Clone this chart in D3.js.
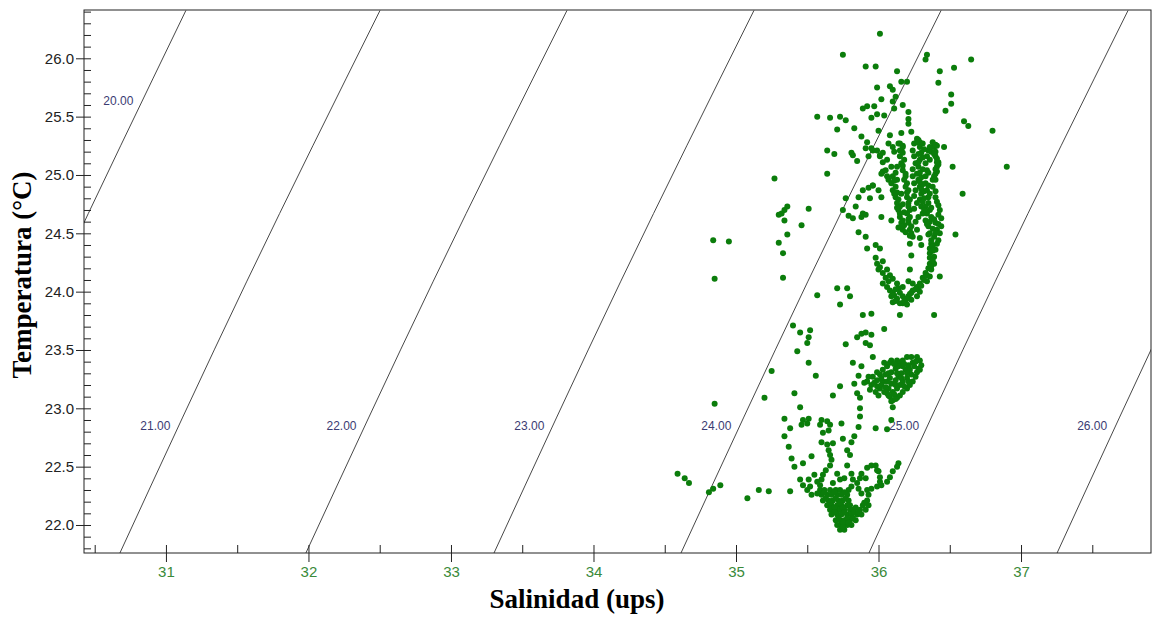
<!DOCTYPE html>
<html>
<head>
<meta charset="utf-8">
<script src="https://cdn.jsdelivr.net/npm/d3@7"></script>
<style>
body { margin: 0; background: #fff; }
</style>
</head>
<body>
<script>
// isopicnas (sigma-t): salinidad donde cada linea cruza las temperaturas isoTemps
var sigmaLevels = [20, 21, 22, 23, 24, 25, 26];
var isoTemps = [21.76, 24.09, 26.41];
var isoSal = [
  [29.365, 30.232, 31.140],
  [30.677, 31.568, 32.502],
  [31.982, 32.876, 33.814],
  [33.302, 34.192, 35.126],
  [34.614, 35.505, 36.439],
  [35.933, 36.820, 37.751],
  [37.253, 38.140, 39.070]
];

var salTicks = [31, 32, 33, 34, 35, 36, 37];
var tempTicks = [22.0, 22.5, 23.0, 23.5, 24.0, 24.5, 25.0, 25.5, 26.0];

// puntos [salinidad, temperatura]
var dispersos = [
  [36.01,26.21],[35.75,26.03],[35.91,25.93],[35.98,25.93],[36.13,25.89],[36.34,26.03],[36.33,25.99],[36.43,25.89],
  [36.53,25.92],[36.65,25.99],[36.42,25.79],[36.16,25.80],[36.20,25.80],[35.99,25.75],[36.08,25.76],[36.10,25.73],
  [36.12,25.67],[36.02,25.65],[36.10,25.63],[36.17,25.60],[36.11,25.57],[35.89,25.57],[35.92,25.59],[35.97,25.59],
  [35.99,25.52],[36.04,25.51],[35.95,25.49],[36.21,25.54],[36.21,25.48],[36.21,25.44],[36.51,25.69],[36.51,25.61],
  [36.47,25.55],[36.60,25.46],[36.63,25.42],[36.80,25.38],[36.90,25.07],[35.57,25.50],[35.66,25.49],[35.73,25.50],
  [35.77,25.47],[35.71,25.39],[35.83,25.40],[35.88,25.33],[36.00,25.38],[36.08,25.34],[36.16,25.36],[36.23,25.37],
  [36.27,25.31],[36.29,25.28],[35.64,25.21],[35.69,25.18],[35.81,25.19],[35.82,25.17],[35.85,25.12],[35.92,25.28],
  [35.91,25.23],[35.95,25.23],[35.99,25.21],[36.01,25.17],[36.03,25.19],[36.07,25.27],[36.10,25.24],[36.14,25.27],
  [36.17,25.25],[36.15,25.21],[36.11,25.20],[36.06,25.13],[36.09,25.07],[36.03,25.03],[36.06,24.99],[36.39,25.24],
  [36.41,25.25],[36.37,25.20],[36.40,25.16],[36.42,25.11],[36.41,25.07],[36.40,25.01],[36.38,24.96],[36.46,25.24],
  [36.52,25.07],[35.64,25.01],[35.27,24.97],[35.96,24.91],
  [35.36,24.73],[35.34,24.70],[35.32,24.67],[35.30,24.66],[35.51,24.71],[35.34,24.61],[35.46,24.57],[35.36,24.49],
  [35.30,24.42],[35.33,24.33],[35.33,24.12],[35.57,23.97],[35.71,24.03],[35.78,24.03],[35.80,23.96],[35.73,23.89],
  [35.77,24.80],[35.75,24.70],[35.79,24.65],[36.59,24.84],
  [34.84,24.44],[34.95,24.43],[34.85,24.11],[34.85,23.04],[34.59,22.44],[34.64,22.40],[34.67,22.36],[34.81,22.28],
  [34.84,22.31],[34.89,22.34],
  [35.93,25.16],[35.96,25.21],[36.01,25.16],[36.03,25.11],[36.05,25.04],[36.02,25.01],[36.07,24.96],[35.89,24.87],
  [35.93,24.89],[35.96,24.91],[36.00,24.87],[36.02,24.81],[35.94,24.80],[35.86,24.81],[35.84,24.73],[35.89,24.67],
  [35.91,24.66],[35.88,24.64],[35.82,24.63],[36.02,24.64],[36.09,24.61],[35.86,24.51],[35.91,24.47],[35.92,24.37],
  [35.98,24.40],[36.01,24.37],[36.22,24.41],[36.23,24.31],[36.22,24.19],[36.15,23.80],[35.89,23.80],[35.95,23.81],
  [36.39,23.80],[36.43,24.13],[36.54,24.49]
];

var grupoSuperior = [
  [36.15,25.27],[36.16,25.21],[36.15,25.16],[36.16,25.10],[36.17,25.04],[36.19,24.99],[36.20,24.93],[36.21,24.87],
  [36.20,24.81],[36.21,24.76],[36.22,24.70],[36.22,24.64],[36.21,24.59],[36.22,24.53],[36.24,24.47],
  [36.17,25.24],[36.18,25.13],[36.19,25.01],[36.19,24.90],[36.22,24.79],[36.20,24.67],[36.23,24.56],[36.23,24.50],
  [36.10,24.99],[36.09,24.93],[36.10,24.87],[36.12,24.81],[36.13,24.76],[36.14,24.70],[36.15,24.64],[36.16,24.59],
  [36.17,24.53],[36.13,24.96],[36.12,24.90],[36.14,24.79],[36.15,24.73],[36.17,24.61],
  [36.28,25.30],[36.29,25.24],[36.30,25.19],[36.29,25.13],[36.28,25.07],[36.27,25.01],[36.28,24.96],[36.29,24.90],
  [36.30,24.84],[36.29,24.79],[36.30,24.73],[36.31,24.67],[36.33,24.61],[36.35,24.56],[36.36,24.50],[36.37,24.44],
  [36.26,25.10],[36.24,24.99],[36.26,24.87],[36.27,24.76],[36.28,24.64],[36.24,25.21],
  [36.35,25.21],[36.34,25.16],[36.33,25.10],[36.34,25.04],[36.33,24.99],[36.33,24.93],[36.34,24.87],[36.35,24.81],
  [36.35,24.76],[36.36,24.70],[36.37,24.64],[36.40,24.59],[36.41,24.53],
  [36.40,25.26],[36.40,25.20],[36.41,25.14],[36.42,25.09],[36.41,25.03],[36.40,24.96],[36.40,24.86],[36.41,24.77],
  [36.43,24.70],[36.44,24.63],[36.44,24.56],[36.43,24.50],
  [36.37,24.41],[36.36,24.37],[36.36,24.33],[36.36,24.29],[36.36,24.24],[36.35,24.20],[36.33,24.16],[36.31,24.12],
  [36.29,24.07],[36.27,24.04],[36.24,24.01],[36.23,23.99],[36.21,23.96],[36.19,23.93],[36.17,23.90],
  [36.41,24.41],[36.40,24.36],[36.39,24.30],[36.39,24.24],[36.37,24.19],[36.36,24.13],[36.34,24.09],
  [36.03,24.26],[36.01,24.21],[36.06,24.19],[36.08,24.14],[36.10,24.11],[36.13,24.07],[36.14,24.03],[36.15,23.99],
  [36.17,23.96],[36.13,23.94],[36.10,23.91],[36.15,23.90],[36.20,23.89],[36.23,23.93],[36.27,23.96],[36.29,24.00],
  [36.28,24.04],[36.08,24.01],[36.06,24.04],[36.03,24.07],[35.98,24.29],[35.99,24.24],[36.03,24.16],[36.07,24.09],
  [36.10,23.99],[36.09,23.96],[36.17,24.04],[36.21,24.09],[36.24,24.07],
  [36.13,25.07],[36.12,25.02],[36.13,24.85],[36.16,24.84],[36.17,24.75],[36.18,24.68],[36.18,24.57],[36.19,24.51],
  [36.14,24.55],[36.31,25.27],[36.32,25.22],[36.31,25.15],[36.31,25.05],[36.30,24.98],[36.31,24.92],[36.32,24.86],
  [36.32,24.80],[36.33,24.73],[36.34,24.67],[36.36,24.60],[36.38,24.54],[36.39,24.47],[36.38,24.39],
  [36.25,25.27],[36.25,25.16],[36.24,25.05],[36.25,24.93],[36.25,24.82],[36.25,24.71],[36.26,24.60],[36.27,24.53],
  [36.29,24.46],[36.30,24.40],[36.38,24.35],[36.38,24.27],[36.37,24.22],[36.34,24.14],[36.32,24.10],[36.30,24.05],
  [36.26,24.02],[36.22,23.98],[36.20,23.94],[36.18,23.92],[36.12,23.92],[36.11,23.97],[36.12,24.02],[36.05,24.12],
  [36.00,24.19],
  [36.17,25.19],[36.17,25.08],[36.18,24.96],[36.20,24.85],[36.21,24.73],[36.21,24.62],[36.22,24.48],
  [36.11,24.95],[36.11,24.84],[36.13,24.72],[36.15,24.67],[36.16,24.56],
  [36.27,25.28],[36.28,25.18],[36.28,25.11],[36.29,25.02],[36.29,24.94],[36.30,24.88],[36.31,24.77],[36.32,24.70],
  [36.34,24.58],[36.35,24.49],
  [36.36,25.24],[36.36,25.13],[36.35,25.02],[36.35,24.91],[36.36,24.84],[36.37,24.72],[36.39,24.62],[36.40,24.50],
  [36.38,25.28],[36.39,25.18],[36.41,25.11],[36.40,25.05],[36.39,24.99],[36.38,24.90],[36.40,24.81],[36.42,24.74],
  [36.42,24.66],[36.42,24.58],[36.42,24.44]
];

var grupoMedio = [
  [35.40,23.71],[35.45,23.65],[35.52,23.67],[35.51,23.61],[35.50,23.56],[35.43,23.49],[35.51,23.39],[35.56,23.28],
  [35.25,23.32],[35.20,23.09],[35.41,23.13],[35.45,23.01],[35.34,22.91],[35.77,23.55],[36.04,23.68],[35.96,23.44],
  [35.82,23.39],[35.88,23.36],[35.86,23.28],[35.83,23.21],[35.73,23.19],[35.68,23.11],[35.85,23.13],[35.87,23.09],
  [35.87,23.00],[35.87,22.93],[35.86,22.84],[35.98,22.83],[36.06,22.82],[36.09,22.90],[36.10,23.01],[36.09,23.06],
  [35.85,23.61],[35.88,23.64],[35.91,23.65],[35.95,23.63],[35.91,23.56],[35.94,23.54],
  [35.92,23.23],[35.95,23.20],[35.99,23.24],[36.01,23.29],[36.03,23.33],[36.06,23.36],[36.08,23.39],[36.09,23.41],
  [36.13,23.41],[36.15,23.39],[36.17,23.41],[36.20,23.44],[36.23,23.44],[36.27,23.44],[36.29,23.41],[36.30,23.37],
  [36.28,23.34],[36.24,23.39],[36.21,23.37],[36.19,23.33],[36.16,23.30],[36.14,23.27],[36.12,23.24],[36.09,23.21],
  [36.07,23.17],[36.06,23.13],[36.08,23.10],[36.10,23.07],[36.13,23.09],[36.15,23.11],[36.17,23.14],[36.20,23.17],
  [36.22,23.20],[36.24,23.23],[36.26,23.27],[36.23,23.29],[36.20,23.26],[36.17,23.23],[36.15,23.20],[36.13,23.17],
  [36.10,23.14],[36.03,23.23],[36.01,23.17],[35.98,23.14],[36.00,23.11],[35.96,23.27],[35.99,23.31],[36.02,23.26],
  [36.05,23.29],[36.07,23.30],[36.09,23.31],[36.12,23.34],[36.14,23.36],[36.17,23.36],[36.22,23.33],[36.27,23.31],
  [36.29,23.33],[36.04,23.39],[35.94,23.16],[35.99,23.19],[35.93,23.27],[35.90,23.22],[36.06,23.23],[36.08,23.26],
  [36.12,23.20],[36.16,23.26],[36.13,23.30],[36.20,23.30],[36.07,23.11],
  [36.02,23.20],[36.05,23.18],[36.11,23.12],[36.18,23.19],[36.21,23.23],[36.25,23.36],[36.26,23.40],[36.11,23.38],
  [36.18,23.38],[35.97,23.22],[36.04,23.14],[36.12,23.08]
];

var grupoInferior = [
  [35.47,22.90],[35.51,22.91],[35.50,22.87],[35.46,22.86],[35.38,22.83],[35.34,22.76],[35.59,22.86],[35.60,22.90],
  [35.64,22.89],[35.66,22.86],[35.74,22.87],[35.83,22.76],[35.08,22.23],[35.16,22.30],[35.23,22.29],[35.37,22.67],
  [35.38,22.29],[35.61,22.79],[35.65,22.81],[35.75,22.74],[35.47,22.34],
  [35.59,22.30],[35.62,22.30],[35.66,22.30],[35.70,22.30],[35.73,22.30],[35.79,22.30],
  [35.60,22.26],[35.64,22.26],[35.67,22.26],[35.71,22.26],[35.74,22.26],[35.78,22.26],
  [35.61,22.21],[35.65,22.21],[35.68,22.21],[35.72,22.21],[35.75,22.21],[35.79,22.21],[35.92,22.21],
  [35.64,22.17],[35.67,22.17],[35.71,22.17],[35.74,22.17],[35.78,22.17],[35.80,22.17],[35.89,22.17],[35.93,22.17],
  [35.66,22.13],[35.70,22.13],[35.73,22.13],[35.76,22.13],[35.80,22.13],[35.82,22.13],[35.87,22.13],[35.91,22.13],
  [35.67,22.09],[35.71,22.09],[35.74,22.09],[35.78,22.09],[35.81,22.09],[35.85,22.09],[35.88,22.09],
  [35.70,22.04],[35.73,22.04],[35.76,22.04],[35.80,22.04],[35.84,22.04],
  [35.71,22.00],[35.74,22.00],[35.78,22.00],[35.81,22.00],
  [35.73,21.96],[35.76,21.96],
  [35.62,22.28],[35.69,22.28],[35.76,22.28],[35.63,22.23],[35.70,22.23],[35.77,22.23],[35.66,22.19],[35.73,22.19],
  [35.69,22.15],[35.75,22.15],[35.84,22.15],[35.69,22.11],[35.76,22.11],[35.83,22.11],[35.72,22.06],[35.78,22.06],
  [35.82,22.06],[35.75,22.02],[35.79,22.02],[35.75,21.98],[35.86,22.11],[35.90,22.19],
  [35.85,22.36],[35.87,22.40],[35.88,22.44],[35.86,22.31],[35.88,22.27],[35.92,22.30],[35.93,22.26],[35.95,22.31],
  [35.99,22.33],[36.02,22.34],[36.06,22.37],[36.08,22.41],[36.10,22.46],[36.13,22.50],[36.14,22.53],[36.00,22.46],
  [36.01,22.41],[36.01,22.37],[35.92,22.49],[35.95,22.51],[35.98,22.51],[35.99,22.47],[35.91,22.40],[35.81,22.33],
  [35.82,22.39],
  [35.64,22.69],[35.65,22.64],[35.66,22.60],[35.67,22.56],[35.66,22.51],[35.63,22.47],[35.61,22.43],[35.60,22.39],
  [35.59,22.34],[35.60,22.71],[35.68,22.70],[35.81,22.71],[35.80,22.60],[35.78,22.51],[35.81,22.44],[35.76,22.40],
  [35.53,22.59],[35.47,22.53],[35.41,22.50],[35.39,22.57],[35.45,22.39],[35.51,22.39],[35.55,22.43],[35.57,22.37],
  [35.52,22.33],[35.50,22.30],[35.53,22.26],[35.57,22.27],[35.78,22.64],[35.71,22.44],[35.73,22.39],[35.68,22.36]
];

var puntos = dispersos.concat(grupoSuperior, grupoMedio, grupoInferior);

var width = 1156, height = 617;
var mLeft = 84, mTop = 10, mRight = 1151, mBottom = 553;

var x = d3.scaleLinear().domain([30.425, 37.912]).range([mLeft, mRight]);
var y = d3.scaleLinear().domain([21.76, 26.414]).range([mBottom, mTop]);

var svg = d3.select("body").append("svg")
    .attr("width", width)
    .attr("height", height)
    .style("font-family", "'Liberation Sans', Arial, sans-serif");

svg.append("clipPath").attr("id", "area")
  .append("rect")
    .attr("x", mLeft).attr("y", mTop)
    .attr("width", mRight - mLeft).attr("height", mBottom - mTop);

var plot = svg.append("g").attr("clip-path", "url(#area)");

// lineas de densidad
var linea = d3.line()
    .x(function(d) { return x(d[0]); })
    .y(function(d) { return y(d[1]); })
    .curve(d3.curveMonotoneY);

plot.selectAll("path.iso")
    .data(isoSal)
  .enter().append("path")
    .attr("class", "iso")
    .attr("d", function(s) { return linea(s.map(function(v, i) { return [v, isoTemps[i]]; })); })
    .attr("fill", "none")
    .attr("stroke", "#333")
    .attr("stroke-width", 0.9);

plot.selectAll("text.iso")
    .data(sigmaLevels)
  .enter().append("text")
    .attr("class", "iso")
    .each(function(lev, i) {
      var tLab = i == 0 ? 25.63 : 22.85;
      var sAt = d3.scaleLinear().domain(isoTemps).range(isoSal[i]);
      d3.select(this)
        .attr("x", x(sAt(tLab)) - 9)
        .attr("y", y(tLab) + 4);
    })
    .attr("text-anchor", "end")
    .attr("font-size", 12)
    .attr("fill", "#3b3b72")
    .text(function(d) { return d3.format(".2f")(d); });

// puntos
plot.selectAll("circle")
    .data(puntos)
  .enter().append("circle")
    .attr("cx", function(d) { return x(d[0]); })
    .attr("cy", function(d) { return y(d[1]); })
    .attr("r", 3)
    .attr("fill", "#0b7d0b");

// marco
svg.append("rect")
    .attr("x", mLeft).attr("y", mTop)
    .attr("width", mRight - mLeft).attr("height", mBottom - mTop)
    .attr("fill", "none")
    .attr("stroke", "#222")
    .attr("stroke-width", 1);

// eje y
var yMinor = svg.append("g").attr("transform", "translate(" + mLeft + ",0)")
    .call(d3.axisRight(y).tickValues(d3.range(2180, 2650, 10).map(function(v) { return v / 100; }))
      .tickSize(7).tickFormat(""));
var yMajor = svg.append("g").attr("transform", "translate(" + mLeft + ",0)")
    .call(d3.axisLeft(y).tickValues(tempTicks).tickSize(8).tickPadding(2).tickFormat(d3.format(".1f")));

// eje x
var xMinor = svg.append("g").attr("transform", "translate(0," + mBottom + ")")
    .call(d3.axisTop(x).tickValues(d3.range(3050, 3800, 50).map(function(v) { return v / 100; }))
      .tickSize(8).tickFormat(""));
var xMajor = svg.append("g").attr("transform", "translate(0," + mBottom + ")")
    .call(d3.axisBottom(x).tickValues(salTicks).tickSize(9).tickPadding(4).tickFormat(d3.format("d")));

svg.selectAll(".domain").remove();
svg.selectAll(".tick line").attr("stroke", "#222");
yMajor.selectAll("text").attr("font-size", 15).attr("fill", "#222").attr("font-family", "'Liberation Sans', Arial, sans-serif");
xMajor.selectAll("text").attr("font-size", 15).attr("fill", "#3a8a3a").attr("font-family", "'Liberation Sans', Arial, sans-serif");

// titulos
svg.append("text")
    .attr("transform", "translate(31,275) rotate(-90)")
    .attr("text-anchor", "middle")
    .attr("font-family", "'Liberation Serif', 'Times New Roman', serif")
    .attr("font-weight", "bold")
    .attr("font-size", 27)
    .text("Temperatura (°C)");

svg.append("text")
    .attr("x", 577).attr("y", 608)
    .attr("text-anchor", "middle")
    .attr("font-family", "'Liberation Serif', 'Times New Roman', serif")
    .attr("font-weight", "bold")
    .attr("font-size", 27)
    .text("Salinidad (ups)");
</script>
</body>
</html>
